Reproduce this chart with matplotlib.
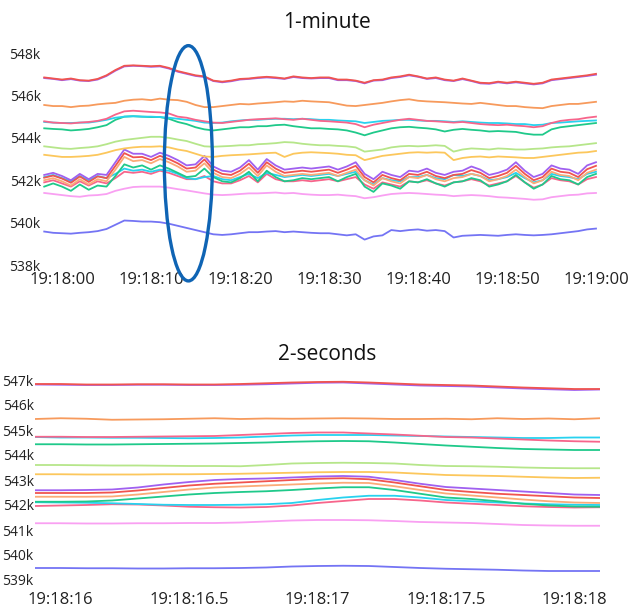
import matplotlib
matplotlib.use("Agg")
import matplotlib.pyplot as plt
from matplotlib.patches import Ellipse
from matplotlib.ticker import FuncFormatter, MultipleLocator

plt.rcParams['font.family'] = ['Open Sans', 'DejaVu Sans']

# ---- 1-minute panel: seconds after 19:18:00, values in thousands ----
t_min = list(range(-2, 61))

top_red = [546.85, 546.8, 546.75, 546.8, 546.72, 546.7, 546.78,
           546.95, 547.2, 547.4, 547.42, 547.4, 547.38,
           547.4, 547.3, 547.15, 547.05, 546.95, 546.9,
           546.7, 546.65, 546.7, 546.78, 546.8, 546.85,
           546.88, 546.85, 546.8, 546.9, 546.85, 546.82, 546.85,
           546.85, 546.75, 546.75, 546.7, 546.6, 546.72, 546.75,
           546.85, 546.9, 546.98, 546.9, 546.8, 546.85, 546.75,
           546.7, 546.8, 546.7, 546.6, 546.58, 546.65, 546.6,
           546.65, 546.6, 546.55, 546.6, 546.75, 546.8, 546.85,
           546.9, 546.95, 547.02]
top_purple = [546.82, 546.78, 546.72, 546.77, 546.7, 546.68, 546.75,
              546.92, 547.17, 547.37, 547.4, 547.38, 547.35,
              547.37, 547.27, 547.12, 547.02, 546.92, 546.87,
              546.68, 546.62, 546.67, 546.75, 546.78, 546.82,
              546.85, 546.82, 546.78, 546.87, 546.82, 546.8, 546.82,
              546.82, 546.72, 546.72, 546.68, 546.57, 546.7, 546.72,
              546.82, 546.87, 546.95, 546.88, 546.78, 546.82, 546.72,
              546.68, 546.77, 546.68, 546.57, 546.55, 546.62, 546.57,
              546.62, 546.57, 546.52, 546.57, 546.72, 546.77, 546.82,
              546.87, 546.92, 546.98]
top_orange = [545.55, 545.5, 545.5, 545.45, 545.5, 545.52, 545.58,
              545.62, 545.65, 545.75, 545.8, 545.82, 545.78,
              545.85, 545.8, 545.78, 545.7, 545.55, 545.45,
              545.45, 545.5, 545.55, 545.6, 545.58, 545.62,
              545.65, 545.68, 545.72, 545.7, 545.75, 545.72, 545.7,
              545.68, 545.6, 545.52, 545.5, 545.55, 545.6, 545.65,
              545.72, 545.78, 545.82, 545.75, 545.72, 545.7, 545.68,
              545.65, 545.62, 545.6, 545.65, 545.6, 545.55, 545.5,
              545.5, 545.45, 545.42, 545.4, 545.5, 545.55, 545.6,
              545.6, 545.65, 545.7]
top_pink = [544.78, 544.72, 544.7, 544.68, 544.72, 544.75, 544.8,
            544.9, 545.1, 545.25, 545.28, 545.25, 545.22,
            545.2, 545.15, 545.0, 544.95, 544.85, 544.78,
            544.72, 544.7, 544.75, 544.8, 544.85, 544.88,
            544.9, 544.92, 544.88, 544.85, 544.9, 544.85, 544.8,
            544.78, 544.75, 544.72, 544.65, 544.5, 544.62, 544.7,
            544.78, 544.85, 544.9, 544.85, 544.8, 544.78, 544.75,
            544.72, 544.75, 544.7, 544.65, 544.62, 544.6, 544.62,
            544.58, 544.55, 544.5, 544.55, 544.7, 544.8, 544.85,
            544.88, 544.95, 545.0]
top_cyan = [544.75, 544.72, 544.7, 544.7, 544.72, 544.72, 544.78,
            544.85, 544.95, 545.0, 545.02, 545.0, 545.0,
            544.98, 544.95, 544.9, 544.85, 544.8, 544.72,
            544.7, 544.72, 544.78, 544.82, 544.85, 544.85,
            544.88, 544.9, 544.9, 544.88, 544.9, 544.88, 544.85,
            544.85, 544.82, 544.8, 544.78, 544.7, 544.75, 544.8,
            544.82, 544.85, 544.85, 544.82, 544.8, 544.8, 544.78,
            544.75, 544.78, 544.75, 544.72, 544.7, 544.7, 544.68,
            544.65, 544.65, 544.6, 544.62, 544.7, 544.72, 544.75,
            544.78, 544.8, 544.82]
top_green = [544.45, 544.42, 544.4, 544.35, 544.38, 544.42, 544.5,
             544.6, 544.85, 545.0, 545.02, 545.0, 544.98,
             544.98, 544.9, 544.75, 544.65, 544.5, 544.4,
             544.35, 544.4, 544.45, 544.5, 544.5, 544.55,
             544.55, 544.6, 544.62, 544.55, 544.5, 544.45, 544.45,
             544.42, 544.4, 544.35, 544.25, 544.12, 544.25, 544.35,
             544.45, 544.5, 544.52, 544.48, 544.45, 544.4, 544.3,
             544.38, 544.42, 544.38, 544.35, 544.3, 544.32, 544.3,
             544.28, 544.2, 544.15, 544.15, 544.4, 544.5, 544.55,
             544.6, 544.65, 544.7]
lime = [543.6, 543.55, 543.5, 543.48, 543.52, 543.55, 543.6,
        543.7, 543.82, 543.9, 543.95, 544.0, 544.05,
        544.05, 544.0, 543.92, 543.85, 543.72, 543.6,
        543.58, 543.6, 543.62, 543.65, 543.65, 543.7,
        543.72, 543.75, 543.8, 543.78, 543.72, 543.68, 543.65,
        543.65, 543.62, 543.6, 543.55, 543.35, 543.4, 543.45,
        543.55, 543.6, 543.62, 543.6, 543.62, 543.65, 543.62,
        543.35, 543.45, 543.5, 543.48, 543.45, 543.5, 543.48,
        543.45, 543.45, 543.48, 543.5, 543.55, 543.58, 543.6,
        543.65, 543.7, 543.75]
yellow = [543.2, 543.15, 543.1, 543.1, 543.12, 543.15, 543.2,
          543.3, 543.42, 543.5, 543.55, 543.58, 543.58,
          543.6, 543.55, 543.45, 543.38, 543.25, 543.12,
          543.1, 543.15, 543.18, 543.2, 543.22, 543.25,
          543.28, 543.3, 543.1, 543.25, 543.3, 543.32, 543.3,
          543.28, 543.25, 543.2, 543.18, 542.95, 543.05, 543.15,
          543.2, 543.25, 543.3, 543.32, 543.3, 543.32, 543.3,
          542.95, 543.05, 543.1, 543.12, 543.08, 543.12, 543.1,
          543.08, 543.05, 543.05, 543.1, 543.15, 543.2, 543.25,
          543.3, 543.32, 543.38]
cl_purple = [542.25, 542.35, 542.2, 542.0, 542.3, 542.05, 542.3, 542.25, 542.85,
             543.45, 543.25, 543.25, 543.1, 543.3, 543.15, 542.95, 542.7, 542.75,
             543.15, 542.65, 542.45, 542.4, 542.6, 542.95, 542.5, 543.0, 542.7,
             542.5, 542.55, 542.6, 542.55, 542.6, 542.65, 542.5, 542.65, 542.85,
             542.3, 542.05, 542.4, 542.25, 542.15, 542.45, 542.4, 542.55, 542.35,
             542.25, 542.4, 542.45, 542.65, 542.5, 542.25, 542.35, 542.5, 542.85,
             542.45, 542.15, 542.3, 542.7, 542.55, 542.5, 542.3, 542.7, 542.85]
cl_red = [542.12, 542.22, 542.08, 541.88, 542.18, 541.92, 542.18, 542.1, 542.68,
          543.28, 543.08, 543.1, 542.95, 543.15, 543.0, 542.8, 542.55, 542.6,
          542.98, 542.5, 542.3, 542.25, 542.45, 542.78, 542.35, 542.85, 542.55,
          542.35, 542.4, 542.45, 542.4, 542.45, 542.5, 542.35, 542.5, 542.68,
          542.15, 541.9, 542.25, 542.1, 542.0, 542.3, 542.25, 542.4, 542.2,
          542.1, 542.25, 542.3, 542.48, 542.35, 542.1, 542.2, 542.35, 542.68,
          542.3, 542.0, 542.15, 542.55, 542.4, 542.35, 542.15, 542.52, 542.68]
cl_orange = [542.0, 542.1, 541.95, 541.75, 542.05, 541.8, 542.05, 541.95, 542.5,
             543.1, 542.9, 542.95, 542.8, 543.0, 542.85, 542.65, 542.4, 542.45,
             542.8, 542.35, 542.15, 542.1, 542.3, 542.6, 542.2, 542.7, 542.4,
             542.2, 542.25, 542.3, 542.25, 542.3, 542.35, 542.2, 542.35, 542.5,
             542.0, 541.75, 542.1, 541.95, 541.85, 542.15, 542.1, 542.25, 542.05,
             541.95, 542.1, 542.15, 542.3, 542.2, 541.95, 542.05, 542.2, 542.5,
             542.15, 541.85, 542.0, 542.4, 542.25, 542.2, 542.0, 542.35, 542.5]
cl_green = [541.7, 541.85, 541.7, 541.5, 541.8, 541.55, 541.75, 541.7, 542.2,
            542.75, 542.6, 542.7, 542.5, 542.7, 542.55, 542.35, 542.15, 542.2,
            542.55, 542.15, 541.95, 541.9, 542.1, 542.4, 541.95, 542.45, 542.15,
            541.95, 542.0, 542.1, 542.05, 542.1, 542.15, 541.95, 542.15, 542.3,
            541.7, 541.45, 541.85, 541.75, 541.6, 541.95, 541.9, 542.05, 541.85,
            541.7, 541.9, 541.95, 542.1, 542.0, 541.7, 541.8, 541.95, 542.25,
            541.9, 541.6, 541.8, 542.2, 542.05, 542.0, 541.8, 542.15, 542.3]
cl_cyan = [542.15, 542.25, 542.1, 541.95, 542.2, 542.0, 542.2, 542.1, 542.3,
           542.55, 542.45, 542.5, 542.4, 542.5, 542.45, 542.3, 542.1, 542.05,
           542.15, 542.2, 542.05, 542.0, 542.15, 542.3, 542.1, 542.35, 542.25,
           542.15, 542.2, 542.25, 542.2, 542.25, 542.3, 542.2, 542.3, 542.4,
           542.0, 541.8, 542.1, 542.0, 541.95, 542.15, 542.15, 542.25, 542.1,
           542.05, 542.25, 542.2, 542.3, 542.2, 542.0, 542.05, 542.15, 542.35,
           542.1, 541.9, 542.0, 542.3, 542.2, 542.15, 542.05, 542.3, 542.4]
cl_pink = [541.9, 542.0, 541.85, 541.7, 541.95, 541.75, 541.95, 541.85, 542.1,
           542.4, 542.35, 542.4, 542.3, 542.45, 542.35, 542.2, 542.05, 542.05,
           542.2, 541.95, 541.85, 541.85, 542.0, 542.2, 541.9, 542.3, 542.05,
           541.95, 541.95, 542.0, 541.95, 542.0, 542.05, 541.95, 542.05, 542.15,
           541.8, 541.6, 541.9, 541.8, 541.7, 541.95, 541.9, 542.0, 541.85,
           541.75, 541.9, 541.95, 542.05, 541.95, 541.75, 541.85, 541.95, 542.2,
           541.9, 541.65, 541.8, 542.1, 542.0, 541.95, 541.8, 542.05, 542.15]
magenta = [541.4, 541.35, 541.3, 541.25, 541.22, 541.28, 541.3,
           541.35, 541.5, 541.6, 541.68, 541.7, 541.7,
           541.7, 541.65, 541.58, 541.52, 541.45, 541.38,
           541.32, 541.3, 541.32, 541.35, 541.38, 541.38,
           541.4, 541.42, 541.38, 541.4, 541.35, 541.32, 541.3,
           541.3, 541.32, 541.28, 541.25, 541.15, 541.2, 541.28,
           541.35, 541.38, 541.4, 541.38, 541.35, 541.32, 541.3,
           541.25, 541.28, 541.3, 541.28, 541.25, 541.2, 541.18,
           541.15, 541.12, 541.08, 541.1, 541.2, 541.25, 541.3,
           541.32, 541.38, 541.4]
blue = [539.58, 539.52, 539.5, 539.48, 539.52, 539.55, 539.6,
        539.7, 539.9, 540.1, 540.08, 540.05, 540.05,
        540.02, 539.95, 539.85, 539.75, 539.65, 539.55,
        539.45, 539.42, 539.45, 539.5, 539.55, 539.55,
        539.58, 539.6, 539.55, 539.58, 539.55, 539.52, 539.5,
        539.5, 539.45, 539.4, 539.45, 539.2, 539.35, 539.4,
        539.65, 539.6, 539.65, 539.68, 539.62, 539.65, 539.6,
        539.3, 539.38, 539.4, 539.42, 539.4, 539.38, 539.42,
        539.45, 539.42, 539.4, 539.42, 539.45, 539.5, 539.55,
        539.6, 539.68, 539.72]

# ---- 2-seconds panel: 19:18:15.9 .. 19:18:18.1 ----
t_sec = [15.9, 16.0, 16.1, 16.2, 16.3, 16.4, 16.5, 16.6, 16.7, 16.8, 16.9, 17.0,
         17.1, 17.2, 17.3, 17.4, 17.5, 17.6, 17.7, 17.8, 17.9, 18.0, 18.1]
s_red = [546.84, 546.84, 546.82, 546.82, 546.83, 546.83, 546.82, 546.82, 546.84, 546.87, 546.9, 546.92,
         546.93, 546.9, 546.86, 546.82, 546.8, 546.78, 546.74, 546.7, 546.67, 546.64, 546.64]
s_purple = [546.82, 546.81, 546.8, 546.8, 546.81, 546.81, 546.8, 546.8, 546.81, 546.83, 546.86, 546.89,
            546.9, 546.86, 546.82, 546.78, 546.76, 546.74, 546.7, 546.66, 546.63, 546.6, 546.62]
s_orange = [545.44, 545.47, 545.45, 545.41, 545.42, 545.43, 545.45, 545.47, 545.44, 545.46, 545.45, 545.46,
            545.47, 545.46, 545.44, 545.44, 545.45, 545.43, 545.47, 545.44, 545.46, 545.43, 545.47]
s_pink = [544.73, 544.73, 544.72, 544.72, 544.73, 544.74, 544.75, 544.76, 544.8, 544.84, 544.88, 544.9,
          544.9, 544.86, 544.82, 544.77, 544.72, 544.7, 544.66, 544.62, 544.58, 544.55, 544.53]
s_cyan = [544.72, 544.7, 544.7, 544.69, 544.69, 544.68, 544.67, 544.68, 544.7, 544.74, 544.78, 544.8,
          544.8, 544.8, 544.78, 544.76, 544.74, 544.72, 544.7, 544.68, 544.68, 544.7, 544.7]
s_green = [544.43, 544.43, 544.42, 544.42, 544.43, 544.44, 544.45, 544.46, 544.48, 544.5, 544.53, 544.55,
           544.56, 544.55, 544.5, 544.44, 544.38, 544.33, 544.28, 544.24, 544.22, 544.2, 544.2]
s_lime = [543.6, 543.6, 543.59, 543.58, 543.58, 543.57, 543.56, 543.56, 543.55, 543.6, 543.66, 543.68,
          543.69, 543.68, 543.66, 543.6, 543.56, 543.55, 543.53, 543.5, 543.48, 543.47, 543.47]
s_yellow = [543.23, 543.23, 543.22, 543.22, 543.22, 543.23, 543.23, 543.24, 543.25, 543.27, 543.29, 543.31,
            543.32, 543.32, 543.3, 543.25, 543.2, 543.18, 543.16, 543.13, 543.1, 543.08, 543.09]
s_cl_purple = [542.59, 542.59, 542.6, 542.62, 542.7, 542.82, 542.92, 543.0, 543.04, 543.06, 543.1, 543.14,
               543.16, 543.13, 543.0, 542.85, 542.72, 542.66, 542.6, 542.54, 542.48, 542.42, 542.4]
s_cl_red = [542.48, 542.48, 542.48, 542.5, 542.58, 542.68, 542.78, 542.85, 542.9, 542.95, 543.0, 543.05,
            543.07, 543.03, 542.9, 542.75, 542.6, 542.52, 542.45, 542.4, 542.35, 542.3, 542.28]
s_cl_orange = [542.33, 542.33, 542.33, 542.34, 542.42, 542.52, 542.62, 542.7, 542.74, 542.78, 542.82, 542.86,
               542.89, 542.88, 542.75, 542.6, 542.46, 542.38, 542.3, 542.22, 542.15, 542.1, 542.08]
s_cl_green = [542.13, 542.13, 542.14, 542.18, 542.26, 542.34, 542.42, 542.48, 542.52, 542.55, 542.6, 542.66,
              542.71, 542.71, 542.6, 542.45, 542.3, 542.24, 542.15, 542.05, 541.98, 541.94, 541.93]
s_cl_cyan = [542.11, 542.1, 542.09, 542.07, 542.04, 542.01, 542.0, 542.0, 542.01, 542.03, 542.08, 542.2,
             542.3, 542.37, 542.37, 542.3, 542.2, 542.15, 542.1, 542.06, 542.03, 542.01, 542.0]
s_cl_pink = [541.96, 541.98, 542.0, 542.03, 542.02, 541.98, 541.93, 541.91, 541.9, 541.92, 541.98, 542.08,
             542.16, 542.24, 542.24, 542.18, 542.1, 542.05, 542.0, 541.95, 541.92, 541.9, 541.91]
s_magenta = [541.27, 541.27, 541.26, 541.26, 541.27, 541.27, 541.28, 541.28, 541.3, 541.34, 541.38, 541.4,
             541.4, 541.39, 541.36, 541.32, 541.3, 541.28, 541.24, 541.2, 541.18, 541.17, 541.17]
s_blue = [539.48, 539.48, 539.47, 539.47, 539.46, 539.46, 539.47, 539.47, 539.48, 539.5, 539.54, 539.56,
          539.57, 539.56, 539.52, 539.48, 539.45, 539.43, 539.41, 539.38, 539.36, 539.36, 539.36]

colors = {
    'red': '#f0544f', 'purple': '#a060f0', 'orange': '#f79a5c', 'pink': '#f7658b',
    'cyan': '#28d2ef', 'green': '#1fc98a', 'lime': '#b6e68a', 'yellow': '#fcc75c',
    'cl_orange': '#fbab78', 'magenta': '#f9a0f2', 'blue': '#7474f4',
}

top_series = [
    (blue, 'blue'), (magenta, 'magenta'),
    (cl_pink, 'pink'), (cl_cyan, 'cyan'), (cl_green, 'green'),
    (cl_orange, 'cl_orange'), (cl_red, 'red'), (cl_purple, 'purple'),
    (yellow, 'yellow'), (lime, 'lime'),
    (top_green, 'green'), (top_cyan, 'cyan'), (top_pink, 'pink'),
    (top_orange, 'orange'), (top_purple, 'purple'), (top_red, 'red'),
]
bottom_series = [
    (s_blue, 'blue'), (s_magenta, 'magenta'),
    (s_cl_pink, 'pink'), (s_cl_cyan, 'cyan'), (s_cl_green, 'green'),
    (s_cl_orange, 'cl_orange'), (s_cl_red, 'red'), (s_cl_purple, 'purple'),
    (s_yellow, 'yellow'), (s_lime, 'lime'),
    (s_green, 'green'), (s_cyan, 'cyan'), (s_pink, 'pink'),
    (s_orange, 'orange'), (s_purple, 'purple'), (s_red, 'red'),
]


def fmt_time(v, pos):
    sec = 18 * 60 + v
    m = int(sec // 60)
    s = sec - m * 60
    if abs(s - round(s)) < 1e-6:
        return "19:%02d:%02d" % (m, round(s))
    return "19:%02d:%04.1f" % (m, s)


def style(ax):
    for sp in ax.spines.values():
        sp.set_visible(False)
    ax.tick_params(length=0, colors='#222222')
    ax.tick_params(axis='y', labelsize=10, pad=1)
    ax.tick_params(axis='x', labelsize=12, pad=3)
    ax.yaxis.set_major_formatter(FuncFormatter(lambda v, p: "%dk" % round(v)))
    ax.xaxis.set_major_formatter(FuncFormatter(fmt_time))


W, H = 629, 608
fig = plt.figure(figsize=(W / 100, H / 100), dpi=100)

ax1 = fig.add_axes([42 / W, 1 - 268 / H, 558 / W, 223 / H])
for vals, c in top_series:
    ax1.plot(t_min, vals, color=colors[c], lw=1.3, solid_joinstyle='round')
ax1.set_xlim(-2.25, 60.45)
ax1.set_ylim(537.86, 548.38)
ax1.xaxis.set_major_locator(MultipleLocator(10))
ax1.yaxis.set_major_locator(MultipleLocator(2))
style(ax1)
# hand-drawn highlight around the 2-second window
ax1.add_patch(Ellipse((14.2, 542.8), 5.4, 11.1, fill=False, edgecolor='#0f64b4',
                      lw=2.4, clip_on=False, zorder=5))

ax2 = fig.add_axes([35 / W, 1 - 588 / H, 565 / W, 216 / H])
for vals, c in bottom_series:
    ax2.plot(t_sec, vals, color=colors[c], lw=1.3)
ax2.set_xlim(15.9, 18.1)
ax2.set_ylim(538.68, 547.32)
ax2.xaxis.set_major_locator(MultipleLocator(0.5))
ax2.yaxis.set_major_locator(MultipleLocator(1))
style(ax2)

fig.text(327 / W, 1 - 22 / H, "1-minute", ha='center', va='center', fontsize=15, color='#111111')
fig.text(327 / W, 1 - 354 / H, "2-seconds", ha='center', va='center', fontsize=15, color='#111111')

fig.savefig("out.png", dpi=100)
